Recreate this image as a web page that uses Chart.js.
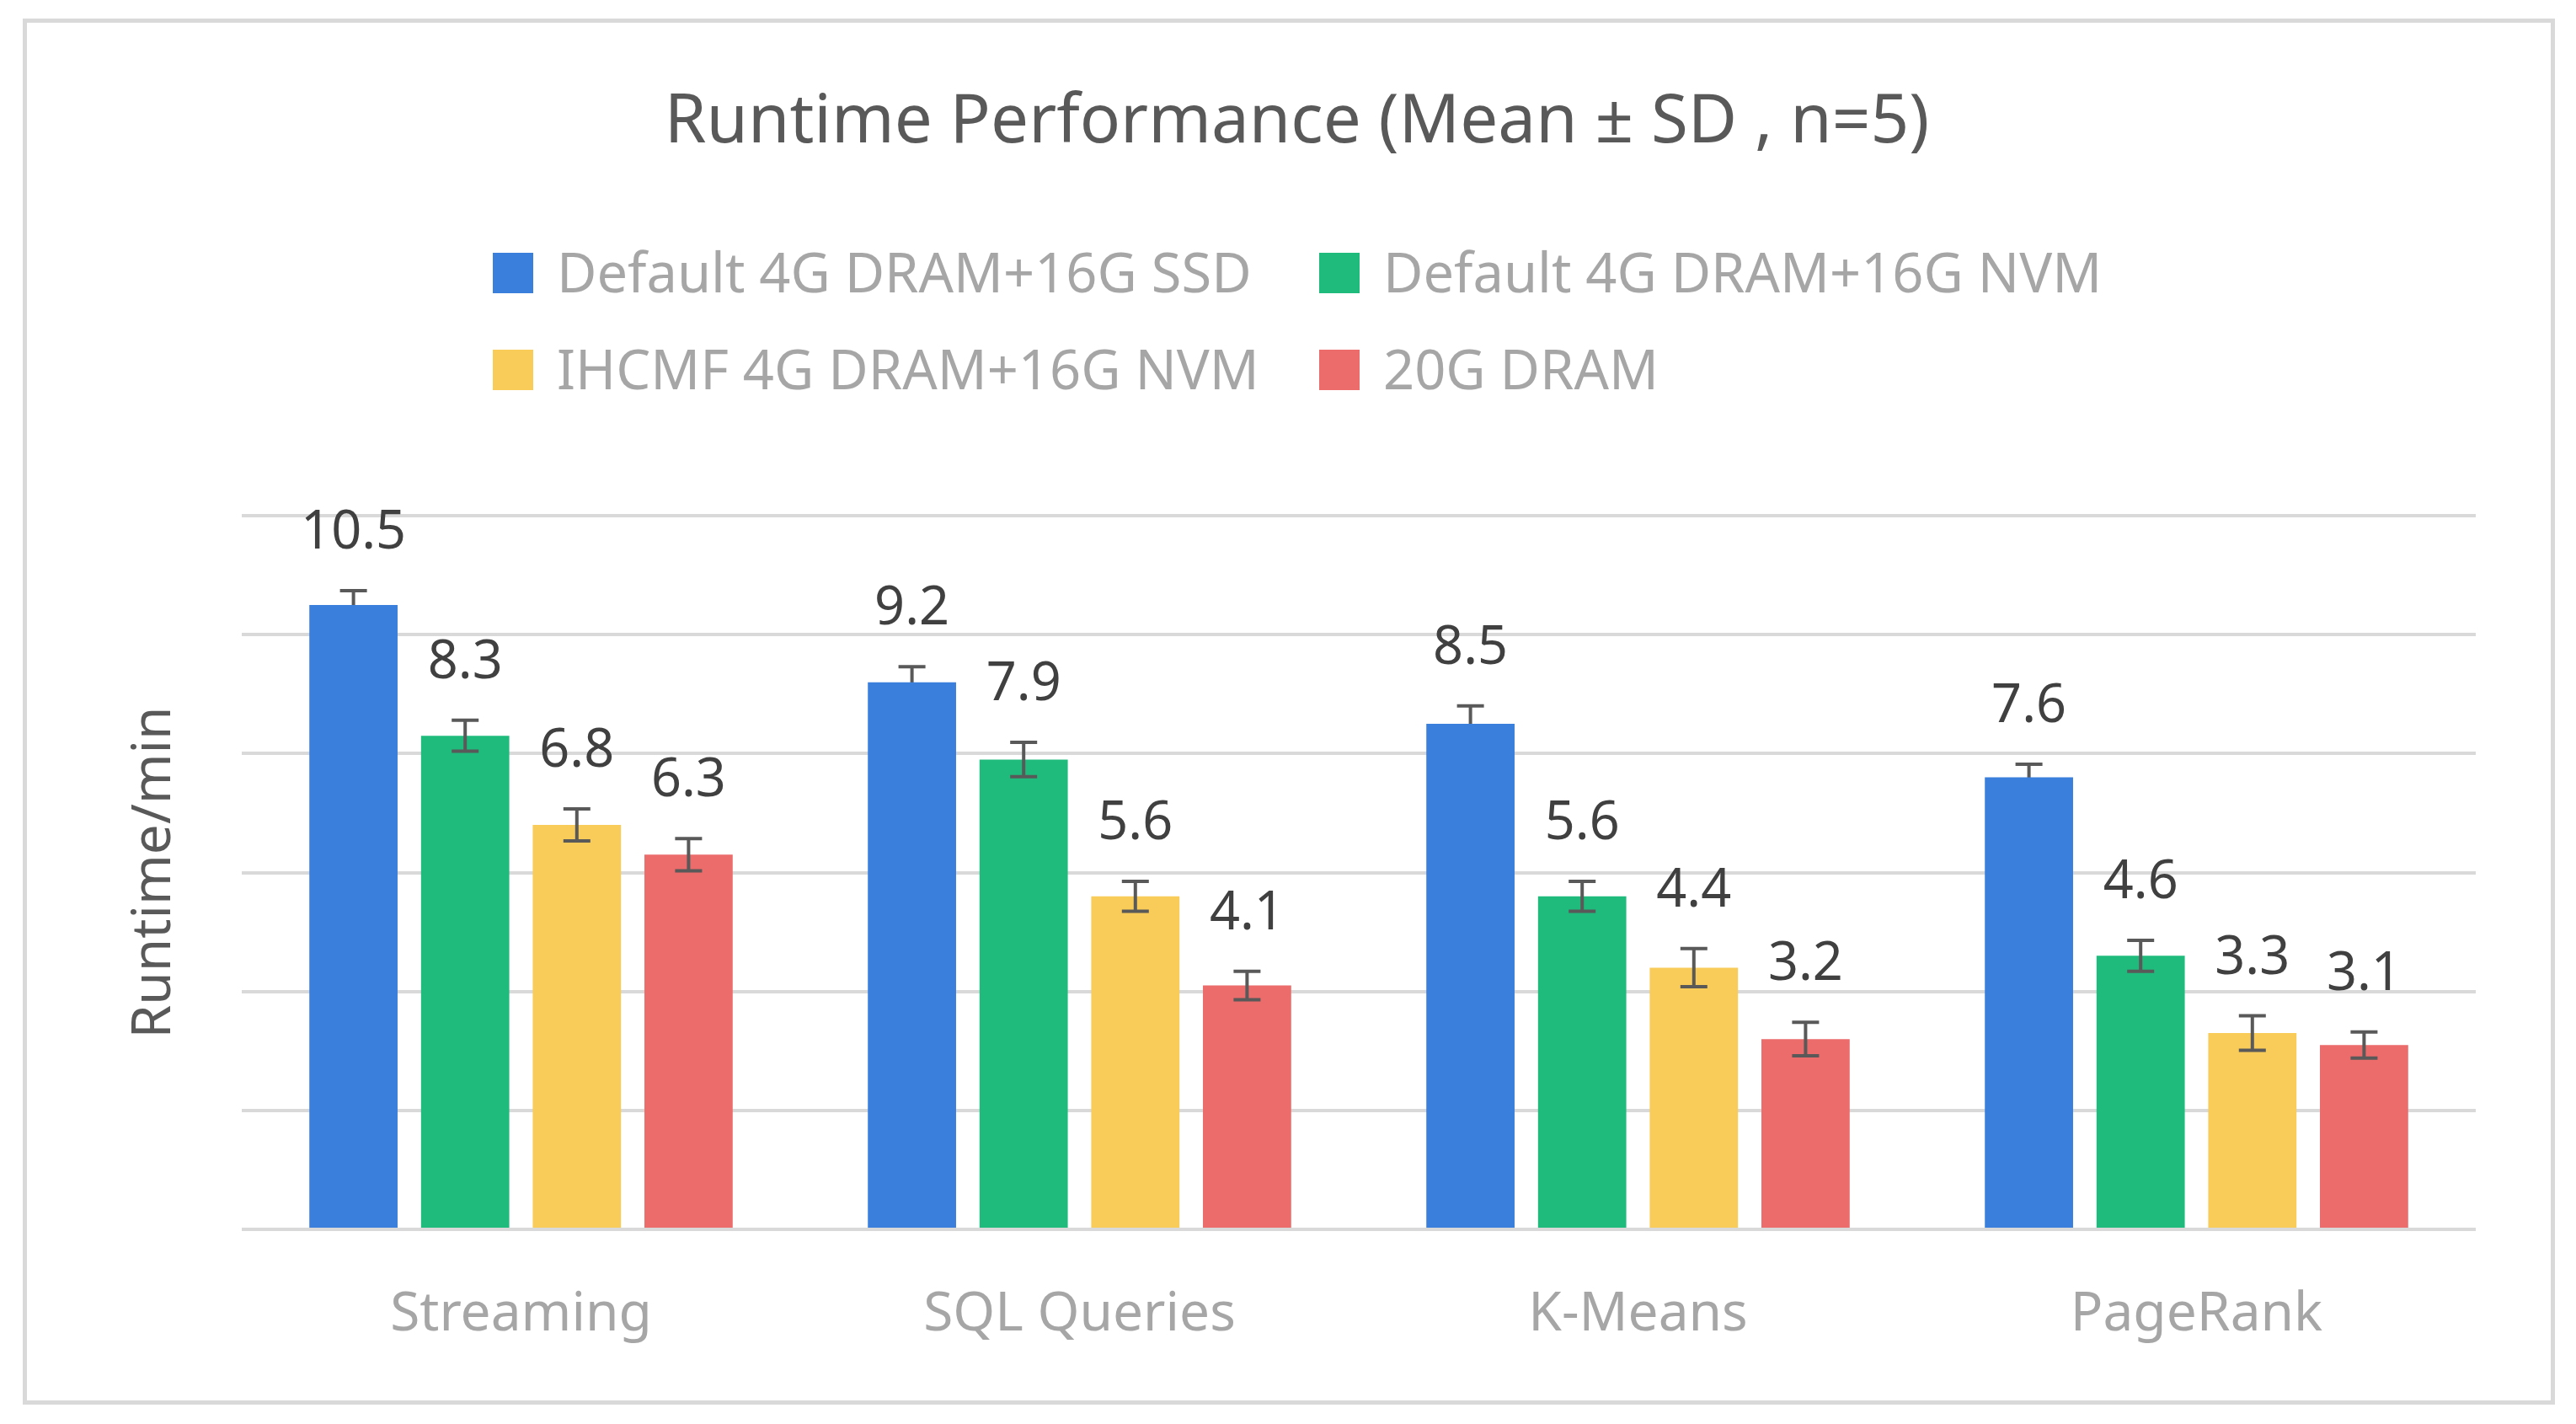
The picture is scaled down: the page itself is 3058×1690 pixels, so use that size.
<!DOCTYPE html>
<html lang="en">
<head>
    <meta charset="UTF-8">
    <title>Runtime Performance</title>
    <script src="https://cdn.jsdelivr.net/npm/chart.js@4.4.1/dist/chart.umd.min.js"></script>
    <style>
        html, body { margin: 0; padding: 0; background: #fff; }
        #wrap { position: relative; width: 3058px; height: 1690px; }
        #frame { position: absolute; left: 27px; top: 22px; width: 3006px; height: 1645px;
                 border: 5px solid #d9d9d9; box-sizing: border-box; pointer-events: none; }
    </style>
</head>
<body>
<div id="wrap">
    <canvas id="runtimeChart"></canvas>
    <div id="frame"></div>
</div>
<script>
    // values (minutes, mean and SD, n=5)
    const workloads = ['Streaming', 'SQL Queries', 'K-Means', 'PageRank'];
    const seriesNames = ['Default 4G DRAM+16G SSD', 'Default 4G DRAM+16G NVM', 'IHCMF 4G DRAM+16G NVM', '20G DRAM'];
    const ssdMeans = [10.5, 9.2, 8.5, 7.6];
    const ssdSD = [0.24, 0.26, 0.30, 0.22];
    const nvmMeans = [8.3, 7.9, 5.6, 4.6];
    const nvmSD = [0.26, 0.29, 0.25, 0.26];
    const ihcmfMeans = [6.8, 5.6, 4.4, 3.3];
    const ihcmfSD = [0.27, 0.25, 0.32, 0.29];
    const dramMeans = [6.3, 4.1, 3.2, 3.1];
    const dramSD = [0.27, 0.24, 0.28, 0.22];
    const yTicks = [0, 2, 4, 6, 8, 10, 12];

    const colors = ['#3a7fdc', '#1fbb7c', '#f9cc5a', '#ec6b6b'];
    const FONT = "'Noto Sans', 'DejaVu Sans', sans-serif";

    function drawErrorBars(chart, behind) {
        const ctx = chart.ctx;
        const yScale = chart.scales.y;
        chart.data.datasets.forEach((ds, i) => {
            if (!!ds.errorBehind !== behind) return;
            const meta = chart.getDatasetMeta(i);
            meta.data.forEach((bar, j) => {
                const v = ds.data[j], sd = ds.sd[j];
                const top = yScale.getPixelForValue(v + sd);
                const bot = yScale.getPixelForValue(v - sd);
                ctx.save();
                ctx.strokeStyle = '#595959';
                ctx.lineWidth = 4;
                ctx.beginPath();
                ctx.moveTo(bar.x, top); ctx.lineTo(bar.x, bot);
                ctx.moveTo(bar.x - 16, top); ctx.lineTo(bar.x + 16, top);
                ctx.moveTo(bar.x - 16, bot); ctx.lineTo(bar.x + 16, bot);
                ctx.stroke();
                ctx.restore();
            });
        });
    }

    const errorBarPlugin = {
        id: 'errorBars',
        beforeDatasetsDraw(chart) {
            // the first series has its lower whisker hidden behind the bar
            drawErrorBars(chart, true);
        },
        afterDatasetsDraw(chart) {
            drawErrorBars(chart, false);
            const ctx = chart.ctx;
            const yScale = chart.scales.y;
            ctx.save();
            ctx.font = '63px ' + FONT;
            ctx.fillStyle = '#404040';
            ctx.textAlign = 'center';
            ctx.textBaseline = 'alphabetic';
            chart.data.datasets.forEach((ds, i) => {
                chart.getDatasetMeta(i).data.forEach((bar, j) => {
                    const top = yScale.getPixelForValue(ds.data[j] + ds.sd[j]);
                    ctx.fillText(ds.data[j].toFixed(1), bar.x, top - 50);
                });
            });
            ctx.restore();
        }
    };

    // two-column legend, columns aligned like the original
    const gridLegendPlugin = {
        id: 'gridLegend',
        afterDraw(chart) {
            const ctx = chart.ctx;
            const colX = [585, 1566];
            const rowY = [324, 439];
            ctx.save();
            ctx.font = '65px ' + FONT;
            ctx.textAlign = 'left';
            ctx.textBaseline = 'alphabetic';
            chart.data.datasets.forEach((ds, i) => {
                const x = colX[i % 2], y = rowY[Math.floor(i / 2)];
                ctx.fillStyle = ds.backgroundColor;
                ctx.fillRect(x, y - 24, 48, 48);
                ctx.fillStyle = '#a6a6a6';
                ctx.fillText(ds.label, x + 76, y + 23);
            });
            ctx.restore();
        }
    };

    const means = [ssdMeans, nvmMeans, ihcmfMeans, dramMeans];
    const sds = [ssdSD, nvmSD, ihcmfSD, dramSD];

    const ctx = document.getElementById('runtimeChart').getContext('2d');
    new Chart(ctx, {
        type: 'bar',
        data: {
            labels: workloads,
            datasets: seriesNames.map((name, i) => ({
                label: name,
                data: means[i],
                sd: sds[i],
                errorBehind: i === 0,
                backgroundColor: colors[i],
                borderWidth: 0,
                barPercentage: 0.79,
                categoryPercentage: 0.8
            }))
        },
        options: {
            responsive: true,
            maintainAspectRatio: false,
            animation: false,
            devicePixelRatio: 1,
            layout: {
                padding: { left: 140, right: 119, top: 0, bottom: 71 }
            },
            plugins: {
                legend: { display: false },
                tooltip: { enabled: false },
                title: {
                    display: true,
                    text: 'Runtime Performance (Mean ± SD , n=5)',
                    color: '#595959',
                    font: { family: FONT, size: 80, weight: 'normal' },
                    padding: { top: 98, bottom: 418 }
                }
            },
            scales: {
                x: {
                    grid: { display: false, drawTicks: false },
                    border: { display: false },
                    ticks: {
                        color: '#a6a6a6',
                        padding: 63,
                        font: { family: FONT, size: 64 }
                    },
                    afterFit(scale) { scale.height = 160; }
                },
                y: {
                    min: yTicks[0],
                    max: yTicks[yTicks.length - 1],
                    ticks: { display: false, stepSize: yTicks[1] - yTicks[0] },
                    grid: { color: '#d9d9d9', lineWidth: 4, drawTicks: false },
                    border: { display: false },
                    title: {
                        display: true,
                        text: 'Runtime/min',
                        color: '#595959',
                        font: { family: FONT, size: 64 },
                        padding: { top: 5, bottom: 0 }
                    },
                    afterFit(scale) { scale.width = 147; }
                }
            }
        },
        plugins: [errorBarPlugin, gridLegendPlugin]
    });
</script>
</body>
</html>
